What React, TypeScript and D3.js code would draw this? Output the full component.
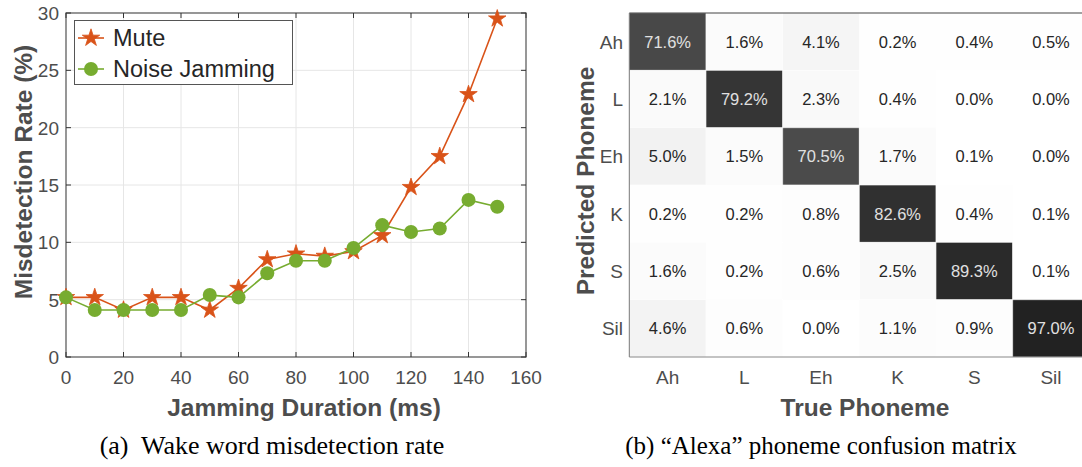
import * as d3 from 'd3';

const durations = [0, 10, 20, 30, 40, 50, 60, 70, 80, 90, 100, 110, 120, 130, 140, 150];
const muteRate = [5.2, 5.2, 4.1, 5.2, 5.2, 4.1, 6.0, 8.5, 9.0, 8.8, 9.2, 10.6, 14.8, 17.5, 22.9, 29.5];
const noiseRate = [5.2, 4.1, 4.1, 4.1, 4.1, 5.4, 5.2, 7.3, 8.4, 8.4, 9.5, 11.5, 10.9, 11.2, 13.7, 13.1];
const xTicks = [0, 20, 40, 60, 80, 100, 120, 140, 160];
const yTicks = [0, 5, 10, 15, 20, 25, 30];

const phonemes = ['Ah', 'L', 'Eh', 'K', 'S', 'Sil'];
// rows = predicted, cols = true
const confusion = [
  [71.6, 1.6, 4.1, 0.2, 0.4, 0.5],
  [2.1, 79.2, 2.3, 0.4, 0.0, 0.0],
  [5.0, 1.5, 70.5, 1.7, 0.1, 0.0],
  [0.2, 0.2, 0.8, 82.6, 0.4, 0.1],
  [1.6, 0.2, 0.6, 2.5, 89.3, 0.1],
  [4.6, 0.6, 0.0, 1.1, 0.9, 97.0],
];

const SANS = '"Liberation Sans", Arial, Helvetica, sans-serif';
const SERIF = '"Liberation Serif", "Times New Roman", serif';
const MUTE = '#d95319';
const NOISE = '#77ac30';
const AX = '#4d4d4d';
const TICK = 19;
const LAB = 24.5;

function LinePanel() {
  const x = d3.scaleLinear().domain([0, 160]).range([66, 526]);
  const y = d3.scaleLinear().domain([0, 30]).range([357, 13]);
  const line = d3.line<number>().x((_, i) => x(durations[i])).y(d => y(d));
  const star = d3.symbol().type(d3.symbolStar).size(95)();
  const circ = d3.symbol().type(d3.symbolCircle).size(155)();
  const [x0, x1] = x.range();
  const [y0, y1] = y.range();
  const tl = 5;

  return (
    <g>
      {/* grid */}
      {xTicks.slice(1, -1).map(t => (
        <line key={'gx' + t} x1={x(t)} x2={x(t)} y1={y1} y2={y0} stroke="#e6e6e6" strokeWidth={1} />
      ))}
      {yTicks.slice(1, -1).map(t => (
        <line key={'gy' + t} x1={x0} x2={x1} y1={y(t)} y2={y(t)} stroke="#e6e6e6" strokeWidth={1} />
      ))}
      {/* box */}
      <rect x={x0} y={y1} width={x1 - x0} height={y0 - y1} fill="none" stroke="#262626" strokeOpacity={0.8} strokeWidth={1.2} />
      {/* ticks */}
      {xTicks.map(t => (
        <g key={'tx' + t}>
          <line x1={x(t)} x2={x(t)} y1={y0} y2={y0 - tl} stroke="#333" />
          <line x1={x(t)} x2={x(t)} y1={y1} y2={y1 + tl} stroke="#333" />
          <text x={x(t)} y={384} textAnchor="middle" fontFamily={SANS} fontSize={TICK} fill={AX}>{t}</text>
        </g>
      ))}
      {yTicks.map(t => (
        <g key={'ty' + t}>
          <line x1={x0} x2={x0 + tl} y1={y(t)} y2={y(t)} stroke="#333" />
          <line x1={x1} x2={x1 - tl} y1={y(t)} y2={y(t)} stroke="#333" />
          <text x={x0 - 7} y={y(t) + 7} textAnchor="end" fontFamily={SANS} fontSize={TICK} fill={AX}>{t}</text>
        </g>
      ))}
      {/* series */}
      <path d={line(muteRate) || ''} fill="none" stroke={MUTE} strokeWidth={1.6} />
      <path d={line(noiseRate) || ''} fill="none" stroke={NOISE} strokeWidth={1.6} />
      {muteRate.map((v, i) => (
        <path key={'m' + i} d={star} transform={`translate(${x(durations[i])},${y(v)})`} fill={MUTE} stroke={MUTE} strokeWidth={0.8} />
      ))}
      {noiseRate.map((v, i) => (
        <path key={'n' + i} d={circ} transform={`translate(${x(durations[i])},${y(v)})`} fill={NOISE} />
      ))}
      {/* labels */}
      <text x={304} y={416} textAnchor="middle" fontFamily={SANS} fontSize={LAB} fontWeight="bold" fill={AX}>Jamming Duration (ms)</text>
      <text transform="translate(32,172) rotate(-90)" textAnchor="middle" fontFamily={SANS} fontSize={LAB} fontWeight="bold" fill={AX}>Misdetection Rate (%)</text>
      {/* legend */}
      <rect x={74.5} y={20.5} width={218} height={64} fill="#fff" stroke="#555" strokeWidth={1} />
      <line x1={78} x2={104} y1={38} y2={38} stroke={MUTE} strokeWidth={1.6} />
      <path d={star} transform="translate(91,38)" fill={MUTE} stroke={MUTE} strokeWidth={0.8} />
      <text x={113} y={46} fontFamily={SANS} fontSize={23.5} fill="#262626">Mute</text>
      <line x1={78} x2={104} y1={69} y2={69} stroke={NOISE} strokeWidth={1.6} />
      <path d={circ} transform="translate(91,69)" fill={NOISE} />
      <text x={113} y={77} fontFamily={SANS} fontSize={23.5} fill="#262626">Noise Jamming</text>
      <text x={272} y={454} textAnchor="middle" fontFamily={SERIF} fontSize={26} fill="#000" style={{ whiteSpace: 'pre' }}>(a)  Wake word misdetection rate</text>
    </g>
  );
}

function HeatPanel() {
  const x = d3.scaleBand().domain(phonemes).range([629.3, 1089.3]);
  const y = d3.scaleBand().domain(phonemes).range([13, 357]);
  const color = d3.scaleLinear<string>().domain([0, 80, 97]).range(['#ffffff', '#333333', '#222222']);
  const bw = x.bandwidth();
  const bh = y.bandwidth();
  const fmt = d3.format('.1f');

  return (
    <g>
      {confusion.map((row, r) =>
        row.map((v, c) => (
          <rect key={`c${r}-${c}`} x={x(phonemes[c])} y={y(phonemes[r])} width={bw} height={bh} fill={color(v)} />
        ))
      )}
      {confusion.map((row, r) =>
        row.map((v, c) => (
          <rect key={`g${r}-${c}`} x={x(phonemes[c])} y={y(phonemes[r])} width={bw} height={bh} fill="none" stroke="#ffffff" strokeOpacity={0.35} strokeWidth={1} />
        ))
      )}
      {confusion.map((row, r) =>
        row.map((v, c) => (
          <text key={`t${r}-${c}`} x={(x(phonemes[c]) || 0) + bw / 2} y={(y(phonemes[r]) || 0) + bh / 2 + 6}
            textAnchor="middle" fontFamily={SANS} fontSize={16.5} fill={v > 50 ? '#e0e0e0' : '#262626'}>
            {fmt(v)}%
          </text>
        ))
      )}
      <line x1={629.3} x2={1082} y1={13} y2={13} stroke="#444" strokeWidth={1.2} />
      <line x1={629.3} x2={629.3} y1={13} y2={357} stroke="#777" strokeWidth={1} />
      <line x1={629.3} x2={1082} y1={357} y2={357} stroke="#888" strokeWidth={1} />
      {phonemes.map(p => (
        <text key={'r' + p} x={623} y={(y(p) || 0) + bh / 2 + 7} textAnchor="end" fontFamily={SANS} fontSize={TICK} fill={AX}>{p}</text>
      ))}
      {phonemes.map(p => (
        <text key={'col' + p} x={(x(p) || 0) + bw / 2} y={384} textAnchor="middle" fontFamily={SANS} fontSize={TICK} fill={AX}>{p}</text>
      ))}
      <text x={865} y={416} textAnchor="middle" fontFamily={SANS} fontSize={LAB} fontWeight="bold" fill={AX}>True Phoneme</text>
      <text transform="translate(594,181) rotate(-90)" textAnchor="middle" fontFamily={SANS} fontSize={LAB} fontWeight="bold" fill={AX}>Predicted Phoneme</text>
      <text x={821} y={454} textAnchor="middle" fontFamily={SERIF} fontSize={25} fill="#000" style={{ whiteSpace: 'pre' }}>(b) “Alexa” phoneme confusion matrix</text>
    </g>
  );
}

export default function App() {
  return (
    <svg width={1082} height={467} viewBox="0 0 1082 467" style={{ position: 'absolute', left: 0, top: 0, background: '#fff' }}>
      <rect width={1082} height={467} fill="#fff" />
      <LinePanel />
      <HeatPanel />
    </svg>
  );
}
